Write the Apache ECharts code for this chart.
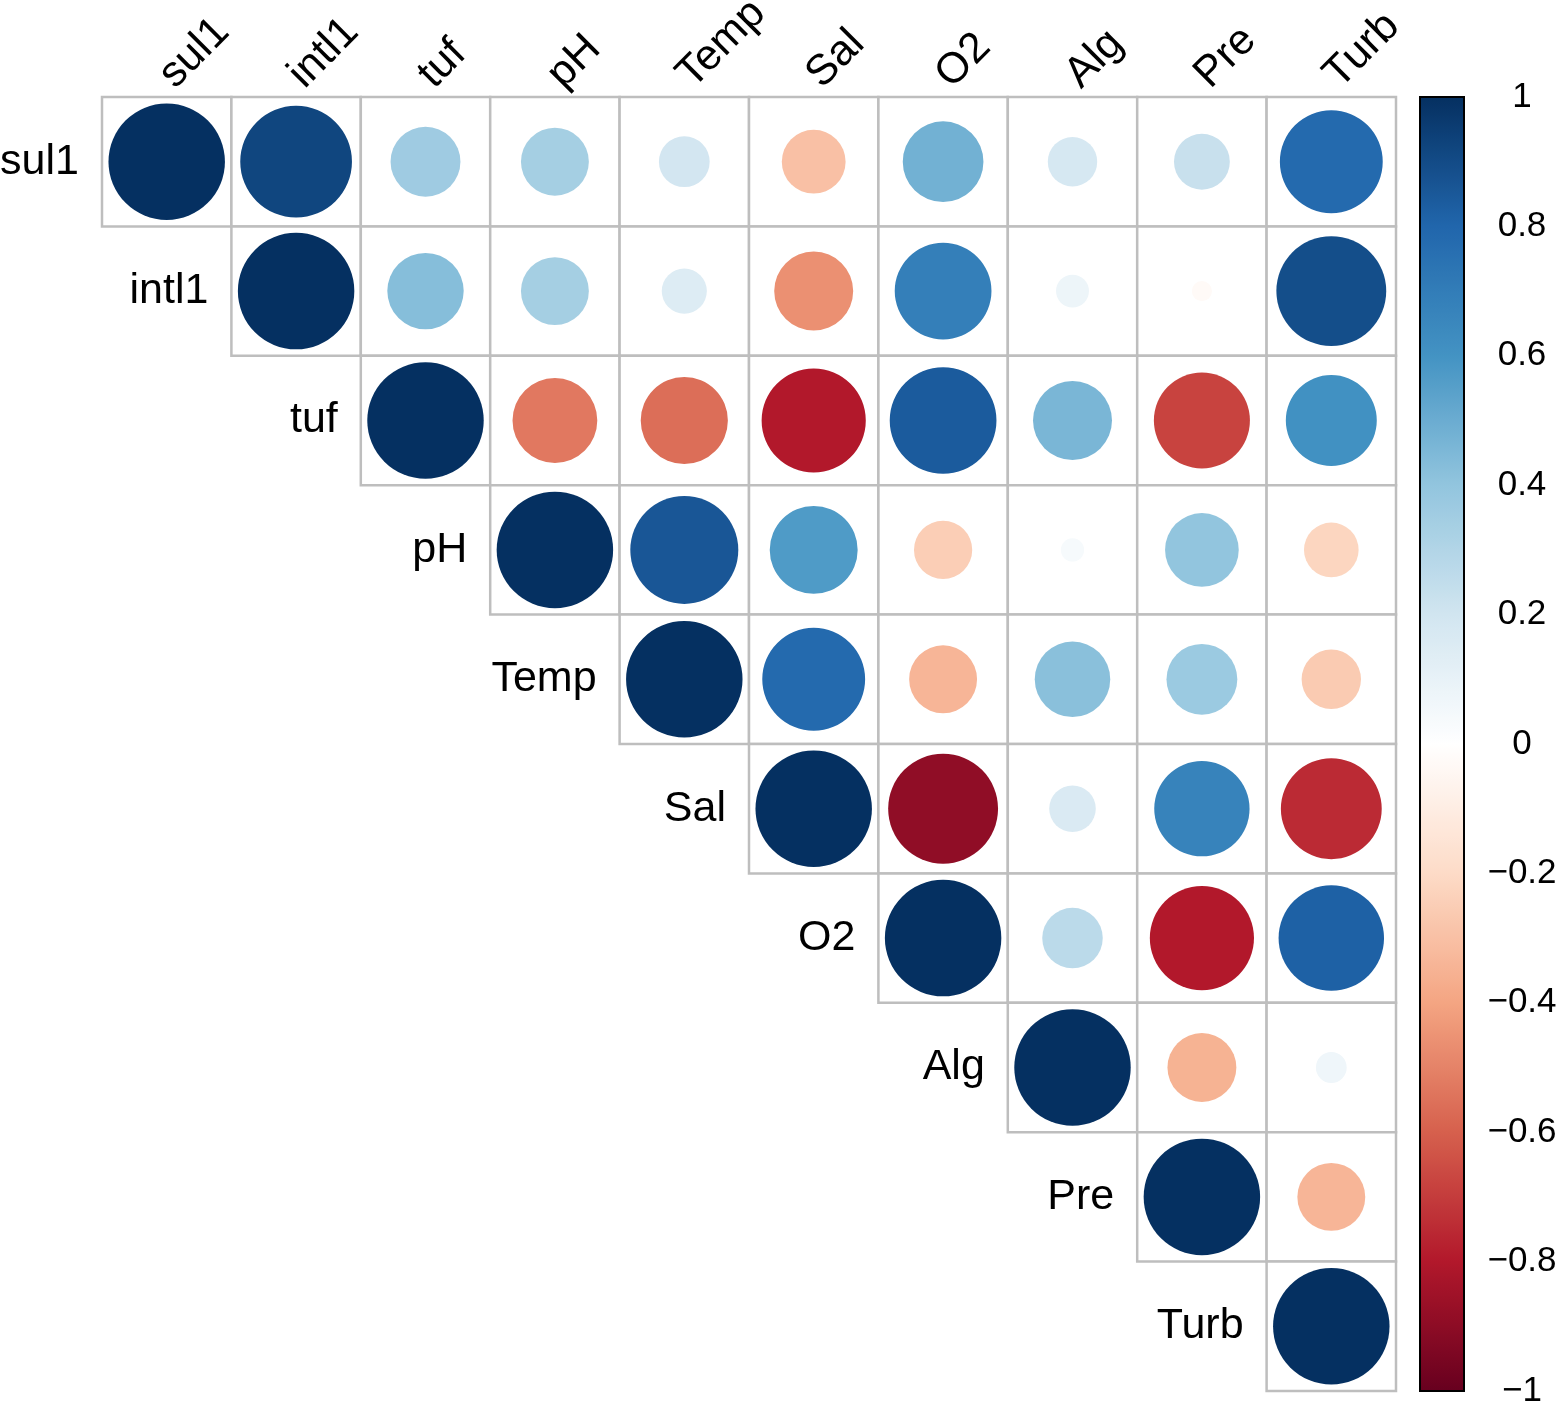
<!DOCTYPE html>
<html>
<head>
<meta charset="utf-8">
<script src="https://cdn.jsdelivr.net/npm/echarts@6/dist/echarts.min.js"></script>
<style>
  html, body { margin: 0; padding: 0; background: #fff; }
  #chart { width: 1559px; height: 1408px; }
</style>
</head>
<body>
<div id="chart"></div>
<script>
// variables, in matrix order
const VARS = ['sul1', 'intl1', 'tuf', 'pH', 'Temp', 'Sal', 'O2', 'Alg', 'Pre', 'Turb'];

// upper triangle, each row starts at its diagonal
const sul1Row  = [1, 0.92, 0.36, 0.34, 0.19, -0.30, 0.48, 0.18, 0.23, 0.78];
const intl1Row = [1, 0.43, 0.34, 0.15, -0.46, 0.69, 0.08, -0.03, 0.89];
const tufRow   = [1, -0.53, -0.56, -0.80, 0.84, 0.46, -0.68, 0.61];
const pHRow    = [1, 0.86, 0.57, -0.25, 0.04, 0.40, -0.22];
const tempRow  = [1, 0.78, -0.34, 0.42, 0.37, -0.26];
const salRow   = [1, -0.89, 0.16, 0.67, -0.75];
const o2Row    = [1, 0.27, -0.80, 0.82];
const algRow   = [1, -0.35, 0.07];
const preRow   = [1, -0.34];
const turbRow  = [1];

const ROWS = [sul1Row, intl1Row, tufRow, pHRow, tempRow, salRow, o2Row, algRow, preRow, turbRow];

// colour bar ticks
const BAR_TICKS = [-1, -0.8, -0.6, -0.4, -0.2, 0, 0.2, 0.4, 0.6, 0.8, 1];

const FUENTE = '"Liberation Sans", Arial, Helvetica, sans-serif';
const RDBU = ['#67001F', '#B2182B', '#D6604D', '#F4A582', '#FDDBC7', '#FFFFFF',
              '#D1E5F0', '#92C5DE', '#4393C3', '#2166AC', '#053061'];

// [col, row, r]
const celdas = [];
ROWS.forEach((fila, i) => fila.forEach((v, k) => celdas.push([i + k, i, v])));

const chart = echarts.init(document.getElementById('chart'));

chart.setOption({
  backgroundColor: '#fff',
  animation: false,
  grid: [
    { left: 102, top: 97, width: 1294, height: 1294, outerBoundsMode: 'none' },
    { left: 1420, top: 97, width: 44, height: 1294, outerBoundsMode: 'none', show: true,
      borderColor: '#000', borderWidth: 2, backgroundColor: 'transparent', z: 5 }
  ],
  xAxis: [
    { type: 'category', data: VARS, position: 'top', gridIndex: 0,
      axisLine: { show: false }, axisTick: { show: false }, splitLine: { show: false },
      axisLabel: { rotate: -45, margin: 16, color: '#000', fontSize: 43, fontFamily: FUENTE } },
    { type: 'value', gridIndex: 1, show: false, min: 0, max: 1 }
  ],
  yAxis: [
    { type: 'category', data: VARS, inverse: true, gridIndex: 0, show: false },
    { type: 'value', gridIndex: 1, position: 'right', min: -1, max: 1, interval: 0.2,
      axisLine: { show: false }, splitLine: { show: false },
      axisTick: { show: true, length: 11, lineStyle: { color: '#000', width: 2 } },
      axisLabel: { margin: 58, align: 'center', color: '#000', fontSize: 35, fontFamily: FUENTE,
        formatter: (v) => {
          const t = BAR_TICKS.find((b) => Math.abs(b - v) < 1e-6);
          if (t === undefined) return '';
          return (t === 0 ? '0' : String(t)).replace('-', '\u2212');
        } } }
  ],
  visualMap: {
    type: 'continuous', min: -1, max: 1, dimension: 2, seriesIndex: 1,
    left: 1420, top: 97, itemWidth: 44, itemHeight: 1294, padding: 0,
    calculable: false, hoverLink: false, realtime: false,
    inRange: { color: RDBU }
  },
  series: [
    { // cell outlines
      type: 'custom', xAxisIndex: 0, yAxisIndex: 0, silent: true,
      data: celdas.map((c) => [c[0], c[1]]),
      renderItem: (params, api) => {
        const p = api.coord([api.value(0), api.value(1)]);
        const s = api.size([1, 1]);
        return { type: 'rect',
          shape: { x: p[0] - s[0] / 2, y: p[1] - s[1] / 2, width: s[0], height: s[1] },
          style: { fill: '#fff', stroke: '#BEBEBE', lineWidth: 2.5 } };
      }
    },
    { // circles, area ~ |r|
      type: 'custom', xAxisIndex: 0, yAxisIndex: 0, silent: true, z: 3,
      data: celdas,
      renderItem: (params, api) => {
        const p = api.coord([api.value(0), api.value(1)]);
        const s = api.size([1, 1]);
        const r = 0.45 * Math.min(s[0], s[1]) * Math.sqrt(Math.abs(api.value(2)));
        return { type: 'circle', shape: { cx: p[0], cy: p[1], r: r },
          style: { fill: api.visual('color') } };
      }
    },
    { // row labels on the diagonal
      type: 'custom', xAxisIndex: 0, yAxisIndex: 0, silent: true, z: 4,
      data: VARS.map((n, i) => [i, i, n]),
      renderItem: (params, api) => {
        const p = api.coord([api.value(0), api.value(1)]);
        const s = api.size([1, 1]);
        return { type: 'text',
          style: { x: p[0] - s[0] / 2 - 23, y: p[1], text: VARS[params.dataIndex],
            align: 'right', verticalAlign: 'middle', fill: '#000',
            fontSize: 43, fontFamily: FUENTE } };
      }
    }
  ]
});
</script>
</body>
</html>
